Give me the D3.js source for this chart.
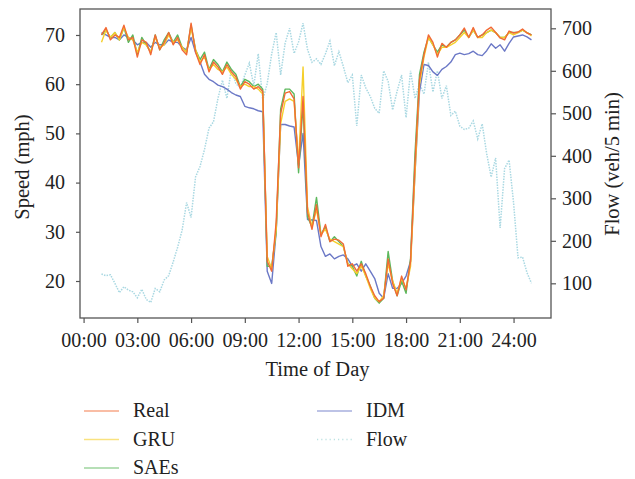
<!DOCTYPE html>
<html>
<head>
<meta charset="utf-8">
<script src="https://cdn.jsdelivr.net/npm/d3@7"></script>
<style>
  body { margin: 0; background: #fff; }
  text { font-family: "Liberation Serif", serif; fill: #222; }
</style>
</head>
<body>
<div id="chart"></div>
<script>
// time of day in hours, one value every 15 min (01:00 -> 25:00)
const hours = d3.range(0, 97).map(i => 1 + i * 0.25);

const real = [70, 71.5, 69, 70, 69.5, 72, 69, 69.5, 65.5, 69,
  68.5, 66, 70, 67, 68.5, 70.5, 68, 69.5, 67, 66,
  72.4, 66.5, 64, 66, 62.5, 64.5, 63.5, 62, 64, 62.5,
  61.5, 59, 60.5, 60, 59, 59.5, 58.5, 24, 22, 32,
  54, 58.2, 58.5, 57, 43, 57.5, 34, 30.5, 35.5, 29,
  31.5, 28, 28.5, 28.3, 27.5, 23, 23.5, 22, 23.5, 21.5,
  19, 17, 15.8, 16.5, 24.5, 19.5, 17, 21, 18.2, 24,
  44, 61, 66, 70, 68.5, 65.5, 68.3, 67.5, 68.5, 69,
  70, 71.4, 69.5, 71.5, 69.5, 70, 71, 71.6, 70.5, 69.4,
  69, 70.8, 70.4, 70.6, 71.2, 70.4, 70];

const gru = [68.5, 71, 69.5, 70.5, 69, 71.5, 69.5, 69, 66.5, 68.5,
  68, 66.5, 69.5, 67.5, 68, 70, 68.5, 69, 67.5, 66.5,
  71.5, 67, 64.5, 65.5, 63, 64, 63, 62.5, 63.5, 62,
  61, 59.5, 60, 59.5, 59.5, 59, 58, 25, 22.5, 30.5,
  52, 56.5, 57, 56.5, 44, 63.5, 35, 31, 34.5, 29.5,
  30.5, 28.5, 28, 27.5, 27, 23.5, 22.5, 21.5, 23, 21,
  18.5, 16.5, 15.8, 17, 23.5, 20, 17.5, 20.5, 18.5, 23,
  42, 60, 65.5, 69.5, 68, 66, 67.5, 67.5, 68, 68.5,
  69.5, 70.5, 69.5, 71, 69.5, 69.5, 70.5, 71, 70.5, 69.5,
  69.5, 70.5, 70, 70.5, 71, 70.5, 69.8];

const saes = [70, 71, 69.5, 70.5, 69, 71.5, 68.5, 70, 66, 69.5,
  68, 66.5, 70, 67, 69, 70.5, 68.5, 70, 67.5, 66.5,
  72, 67, 65, 66.5, 63, 65, 64, 62.5, 64.5, 63,
  62, 59.5, 61, 60.5, 59.5, 60, 59, 23, 23, 30,
  55, 59, 59, 58, 42, 56, 33, 31, 37, 29.5,
  31, 28, 29, 28, 27, 23.5, 23, 21, 24, 21,
  19, 16.5, 15.5, 16.5, 26, 20, 17, 20, 17.5, 24.5,
  46, 62, 66.5, 69.5, 68, 66.5, 68, 67.5, 68.5, 69,
  70, 71, 69.5, 71, 69.5, 70, 70.5, 71, 70.5, 69.5,
  69.5, 70.5, 70.5, 70.5, 71, 70.5, 70];

const idm = [70.5, 70, 69.5, 69.5, 69, 70, 69.5, 69, 68, 68.5,
  68.5, 67.5, 68.5, 68, 68, 69, 68.5, 68.5, 67.5, 67,
  69.5, 66.5, 64.5, 62, 61, 60.5, 59.8, 59.5, 59, 58.3,
  57.8, 57.5, 55.5, 55.2, 55, 54.6, 54.4, 22, 19.5, 30,
  51.8, 51.8, 51.5, 51.3, 43.5, 50, 32.5, 32.4, 32.3, 27,
  25, 25.5, 24.5, 25, 25.3, 24.5, 23, 23.5, 22, 23.5,
  22, 20.5, 17.5, 16.5, 21.5, 18.5, 18.5, 19.5, 21, 24,
  42, 58.5, 64, 63.8, 62.5, 61.8, 63, 63.6, 64.5, 66,
  66.3, 66, 66.2, 66.7, 66, 65.8, 66.8, 68.2, 67.3, 68,
  66.7, 68.3, 69.6, 69.8, 70, 69.6, 69];

const flow = [122, 118, 120, 100, 78, 92, 84, 80, 66, 86,
  62, 55, 88, 80, 108, 118, 150, 185, 225, 290,
  255, 350, 375, 415, 465, 480, 535, 578, 535, 605,
  570, 560, 590, 618, 565, 640, 531, 570, 640, 690,
  590, 665, 700, 641, 668, 712, 650, 620, 628, 615,
  640, 670, 612, 645, 610, 572, 590, 470, 590, 560,
  540, 512, 500, 600, 575, 508, 552, 590, 490, 600,
  535, 570, 545, 620, 550, 600, 535, 565, 495, 505,
  470, 462, 465, 482, 440, 475, 405, 350, 395, 230,
  370, 390, 290, 160, 162, 125, 100];

const xTicks = [0, 3, 6, 9, 12, 15, 18, 21, 24];
const xTickLabels = ["00:00", "03:00", "06:00", "09:00", "12:00", "15:00", "18:00", "21:00", "24:00"];
const speedTicks = [20, 30, 40, 50, 60, 70];
const flowTicks = [100, 200, 300, 400, 500, 600, 700];

const margin = { top: 9, right: 84, bottom: 161, left: 80 },
    width = 635 - margin.left - margin.right,
    height = 479 - margin.top - margin.bottom;

const svg = d3.select("#chart")
    .append("svg")
    .attr("width", 635)
    .attr("height", 479)
    .append("g")
    .attr("transform", `translate(${margin.left},${margin.top})`);

const x = d3.scaleLinear().domain([-0.2, 26.09]).range([0, width]);
const y = d3.scaleLinear().domain([12.48, 75.28]).range([height, 0]);
const yFlow = d3.scaleLinear().domain([18.4, 745.4]).range([height, 0]);

// flow first, speed lines on top
const flowLine = d3.line().x((d, i) => x(hours[i])).y(d => yFlow(d));
svg.append("path")
    .datum(flow)
    .attr("fill", "none")
    .attr("stroke", "#a9d8e2")
    .attr("stroke-width", 1.5)
    .attr("stroke-dasharray", "1.5,1.2")
    .attr("d", flowLine);

const speedLine = d3.line().x((d, i) => x(hours[i])).y(d => y(d));
const series = [
    { name: "IDM", values: idm, color: "#6b78c6" },
    { name: "SAEs", values: saes, color: "#5cb85c" },
    { name: "GRU", values: gru, color: "#f5cf2a" },
    { name: "Real", values: real, color: "#f26a35" }
];
series.forEach(s => {
    svg.append("path")
        .datum(s.values)
        .attr("fill", "none")
        .attr("stroke", s.color)
        .attr("stroke-width", 1.4)
        .attr("stroke-linejoin", "round")
        .attr("d", speedLine);
});

// frame
svg.append("rect")
    .attr("width", width).attr("height", height)
    .attr("fill", "none").attr("stroke", "#555").attr("stroke-width", 1.3);

// axes
const xAxis = svg.append("g")
    .attr("transform", `translate(0,${height})`)
    .call(d3.axisBottom(x).tickValues(xTicks).tickFormat((d, i) => xTickLabels[i]).tickSize(5).tickPadding(9.5));
const yAxis = svg.append("g")
    .call(d3.axisLeft(y).tickValues(speedTicks).tickSize(4).tickPadding(11));
const yAxisR = svg.append("g")
    .attr("transform", `translate(${width},0)`)
    .call(d3.axisRight(yFlow).tickValues(flowTicks).tickSize(5).tickPadding(6));
[xAxis, yAxis, yAxisR].forEach(a => {
    a.select(".domain").remove();
    a.selectAll(".tick line").attr("stroke", "#555").attr("stroke-width", 1.2);
    a.selectAll("text").attr("font-size", "20px").attr("font-family", "Liberation Serif").attr("fill", "#222");
});

// axis titles
svg.append("text")
    .attr("x", width / 2 + 2).attr("y", 367)
    .attr("text-anchor", "middle").style("font-size", "20.5px")
    .text("Time of Day");
svg.append("text")
    .attr("transform", `translate(-51,${158}) rotate(-90)`)
    .attr("text-anchor", "middle").style("font-size", "20.5px")
    .text("Speed (mph)");
svg.append("text")
    .attr("transform", `translate(${width + 68},${155}) rotate(-90)`)
    .attr("text-anchor", "middle").style("font-size", "20.5px")
    .text("Flow (veh/5 min)");

// legend (page coords)
const legend = d3.select("#chart svg").append("g");
const legendItems = [
    { name: "Real", color: "#f26a35", x: 84, y: 411 },
    { name: "GRU", color: "#f5cf2a", x: 84, y: 439.5 },
    { name: "SAEs", color: "#5cb85c", x: 84, y: 468 },
    { name: "IDM", color: "#6b78c6", x: 317, y: 411 },
    { name: "Flow", color: "#8fcfcf", x: 317, y: 439.5, dash: "1.2,3" }
];
legendItems.forEach(d => {
    legend.append("line")
        .attr("x1", d.x).attr("x2", d.x + 35)
        .attr("y1", d.y).attr("y2", d.y)
        .attr("stroke", d.color).attr("stroke-width", 1.6)
        .attr("stroke-opacity", 0.6)
        .attr("stroke-dasharray", d.dash || null);
    legend.append("text")
        .attr("x", d.x + 49).attr("y", d.y + 6)
        .style("font-size", "20px")
        .text(d.name);
});
</script>
</body>
</html>
